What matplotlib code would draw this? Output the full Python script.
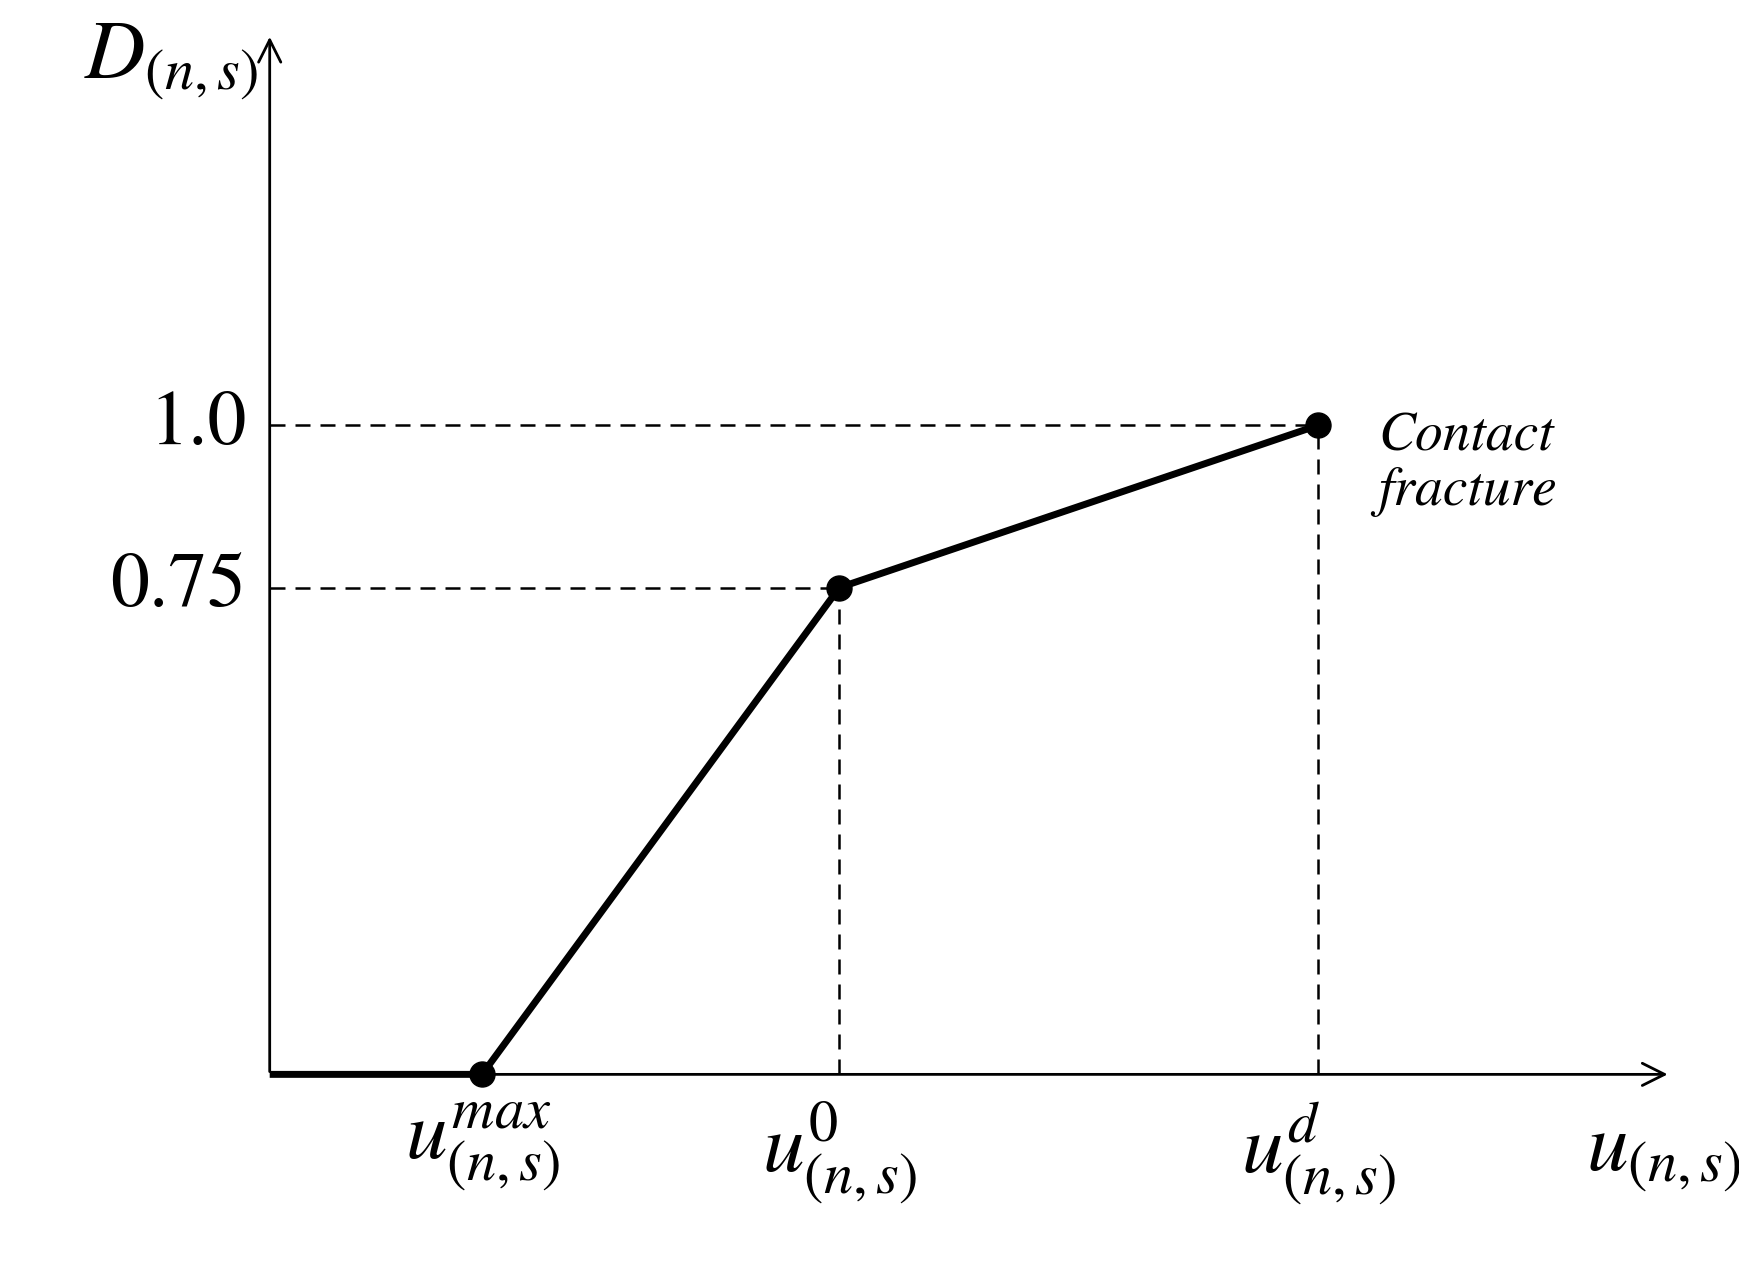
import matplotlib.pyplot as plt

plt.rcParams['mathtext.fontset'] = 'stix'
plt.rcParams['font.family'] = 'STIXGeneral'

# damage curve values
u_pts = [0.0, 0.91, 2.44, 4.49]
d_pts = [0.0, 0.0, 0.75, 1.0]
dot_u = [0.91, 2.44, 4.49]
dot_d = [0.0, 0.75, 1.0]
ytick_vals = [0.75, 1.0]
ytick_labels = ['0.75', '1.0']
xtick_labels = [r'$u^{max}_{(n,s)}$', r'$u^{0}_{(n,s)}$', r'$u^{d}_{(n,s)}$']

fig = plt.figure(figsize=(17.4, 12.61), dpi=100)
ax = fig.add_axes([0.155, 0.148, 0.805, 0.825])
ax.set_xlim(0, 6)
ax.set_ylim(0, 1.603)
for s in ax.spines.values():
    s.set_visible(False)
ax.set_xticks([])
ax.set_yticks([])

# axes with arrows
ax.annotate('', xy=(1, 0), xytext=(0, 0), xycoords='axes fraction',
            arrowprops=dict(arrowstyle='->', lw=2, mutation_scale=40), annotation_clip=False)
ax.annotate('', xy=(0, 1), xytext=(0, 0), xycoords='axes fraction',
            arrowprops=dict(arrowstyle='->', lw=2, mutation_scale=40), annotation_clip=False)

# dashed guides
for u, d in zip(dot_u[1:], dot_d[1:]):
    ax.plot([0, u], [d, d], 'k--', lw=1.8, dashes=(6, 4))
    ax.plot([u, u], [0, d], 'k--', lw=1.8, dashes=(6, 4))

ax.plot(u_pts, d_pts, 'k-', lw=5, solid_capstyle='butt', clip_on=False)
ax.plot(dot_u, dot_d, 'ko', ms=18, clip_on=False)

for v, lab in zip(ytick_vals, ytick_labels):
    ax.text(-0.1, v, lab, ha='right', va='center', fontsize=56)
for u, lab in zip(dot_u, xtick_labels):
    ax.text(u, -0.04, lab, ha='center', va='top', fontsize=60)

ax.text(-0.05, 1.56, r'$D_{(n,s)}$', ha='right', va='center', fontsize=60)
ax.text(6.3, -0.07, r'$u_{(n,s)}$', ha='right', va='top', fontsize=60)
ax.text(4.75, 0.94, 'Contact\nfracture', ha='left', va='center', fontsize=40,
        style='italic', linespacing=1.1)

fig.savefig('out.png', dpi=100)
